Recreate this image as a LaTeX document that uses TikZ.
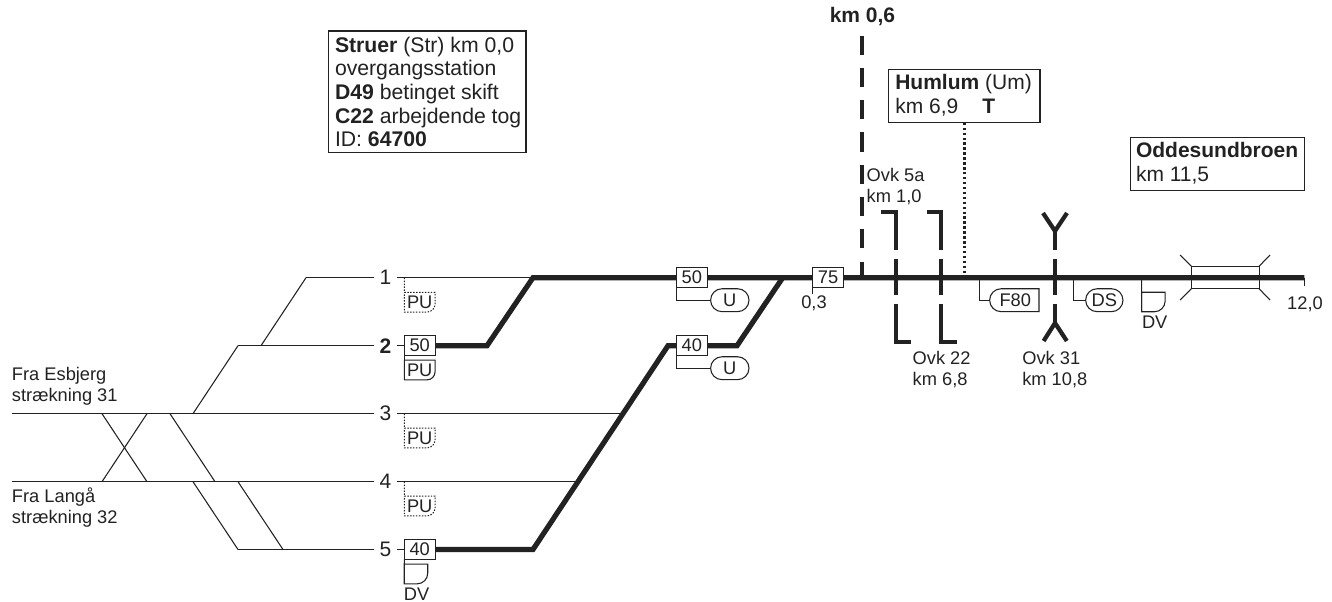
\documentclass[tikz,border=0pt]{standalone}
\usepackage{fontspec}
\setmainfont{Liberation Sans}
\usetikzlibrary{shapes.misc,backgrounds}
\definecolor{ink}{HTML}{222222}
\newcommand{\bignum}{\fontsize{15.75}{18}\selectfont}
\newcommand{\smalltxt}{\fontsize{13.7}{15.75}\selectfont}
\newcommand{\shield}[3]{\draw[#3] (#1.north west) -- (#1.north east) -- ([yshift=#2]#1.south east) arc[start angle=0,end angle=-90,radius=#2] -- (#1.south west) -- cycle;}
\tikzset{
  x=0.75pt,y=-0.75pt,
  every node/.style={text=ink,inner sep=0pt,outer sep=0pt},
  thinline/.style={draw=ink,line width=0.8pt},
  frame/.style={draw=ink,line width=0.8pt},
  main/.style={draw=ink,line width=3.9pt,miter limit=10},
  road/.style={draw=ink,line width=3.2pt,miter limit=10},
  dashroad/.style={road,dash pattern=on 14.3pt off 9.9pt},
  dotline/.style={draw=ink,line width=1.8pt,dash pattern=on 1.8pt off 1.9pt},
  dotframe/.style={draw=ink,line width=0.75pt,dash pattern=on 1.1pt off 1.1pt},
  num/.style={font=\bignum,minimum width=17.25pt},
  speed/.style={font=\smalltxt,draw=ink,line width=0.8pt,fill=white,minimum width=23pt,minimum height=14.7pt},
  pill/.style={font=\smalltxt,draw=ink,line width=0.8pt,fill=white,rounded rectangle,minimum height=17.2pt},
  shieldtxt/.style={font=\smalltxt,minimum width=23pt,minimum height=14.8pt},
  small/.style={font=\smalltxt,align=left,anchor=base west},
  infoframe/.style={draw=ink,line width=0.8pt,fill=white},
  info/.style={font=\bignum,align=left,anchor=base west}
}
\begin{document}
\begin{tikzpicture}
\useasboundingbox (0,0) rectangle (1332,602);
% track numbers
\node[num] (n1) at (385.5,277.7) {1};
\node[num] (n2) at (385.5,345.7) {\textbf{2}};
\node[num] (n3) at (385.5,413.7) {3};
\node[num] (n4) at (385.5,481.7) {4};
\node[num] (n5) at (385.5,549.5) {5};
% speed boards
\node[speed] (b2) at (419.7,345.7) {50};
\node[speed] (b5) at (419.7,549.5) {40};
\node[speed] (b1) at (691.8,277.7) {50};
\node[speed] (b4) at (691.8,345.7) {40};
\node[speed] (b75) at (828,277.7) {75};
% U pills
\node[pill,minimum width=28.8pt] (u1) at (729.8,300.2) {U};
\node[pill,minimum width=28.8pt] (u2) at (729.8,368.2) {U};
\node[pill,minimum width=28pt] (ds) at (1104.3,300.2) {DS};
\node[pill,rounded rectangle right arc=none,minimum width=37pt] (f80) at (1015.3,300.2) {F80};
% shields
\node[shieldtxt] (pu1) at (419.7,302.2) {PU};
\node[shieldtxt] (pu2) at (419.7,370) {PU};
\node[shieldtxt] (pu3) at (419.7,438) {PU};
\node[shieldtxt] (pu4) at (419.7,506) {PU};
\node[minimum width=17.6pt,minimum height=14.8pt] (dv1) at (416,574) {};
\node[minimum width=17.6pt,minimum height=14.6pt] (dv2) at (1153.4,302) {};
\shield{pu1}{6pt}{dotframe}
\shield{pu2}{6pt}{frame}
\shield{pu3}{6pt}{dotframe}
\shield{pu4}{6pt}{dotframe}
\shield{dv1}{8pt}{frame}
\shield{dv2}{8pt}{frame}
% labels
\node[small] (esb) at (12,401.7) {Fra Esbjerg\\strækning 31};
\node[small] (lan) at (12,523.3) {Fra Langå\\strækning 32};
\node[font=\smalltxt] (dvt1) at (416.5,594) {DV};
\node[font=\smalltxt] (dvt2) at (1154.7,322.5) {DV};
\node[font=\smalltxt] (km03) at (814,303) {0,3};
\node[font=\smalltxt] (km12) at (1305,304.7) {12,0};
\node[small] (o5) at (866.7,202.7) {Ovk 5a\\km 1,0};
\node[small] (o22) at (912.7,385) {Ovk 22\\km 6,8};
\node[small] (o31) at (1022.3,385) {Ovk 31\\km 10,8};
\node[font=\bignum\bfseries,anchor=base] (km06) at (862.5,22.7) {km 0,6};
% info boxes
\node[infoframe,minimum width=148.2pt,minimum height=91.2pt] (str) at (427.2,91.8) {};
\node[infoframe,minimum width=113.5pt,minimum height=39.8pt] (hum) at (964.3,96.2) {};
\node[infoframe,minimum width=130.7pt,minimum height=39.8pt] (odd) at (1217.2,163.8) {};
\node[info,font=\fontsize{15.9}{17.7}\selectfont] (strt) at (335,146.7) {\textbf{Struer} (Str) km 0,0\\overgangsstation\\\textbf{D49} betinget skift\\\textbf{C22} arbejdende tog\\ID: \textbf{64700}};
\node[info] (humt) at (895.3,114) {\textbf{Humlum} (Um)\\km 6,9\hspace{18pt}\textbf{T}};
\node[info] (oddt) at (1136,181.7) {\textbf{Oddesundbroen}\\km 11,5};
% bridge
\node[draw=ink,line width=0.8pt,minimum width=50.8pt,minimum height=16.8pt] (br) at (1225.2,277.5) {};
\coordinate (w1) at (1180,255);
\coordinate (w2) at (1180,300);
\coordinate (w3) at (1270,255);
\coordinate (w4) at (1270,300);
\draw[thinline] (br.north west) -- (w1) (br.south west) -- (w2) (br.north east) -- (w3) (br.south east) -- (w4);
% junction points
\coordinate (t1a) at (306,277.7); \coordinate (t2a) at (238,345.7);
\coordinate (t5a) at (238,549.5); \coordinate (t5b) at (283,549.5);
\coordinate (t3a) at (11.5,413.7); \coordinate (t4a) at (11.5,481.7);
\coordinate (t1e) at (533,277.7); \coordinate (t2k) at (487,345.7);
\coordinate (t5k) at (533,549.5); \coordinate (t4k) at (668,345.7);
\coordinate (t4e) at (737,345.7); \coordinate (t4j) at (782.7,277.7);
\coordinate (tend) at (1304.3,277.7);
\coordinate (t3e) at (623,413.7); \coordinate (t4f) at (578,481.7);
\begin{scope}[on background layer]
\draw[thinline] (t1a) -- (n1.west) (n1.east) -- (t1e);
\draw[thinline] (t2a) -- (n2.west) (n2.east) -- (b2.west);
\draw[thinline] (t3a) -- (n3.west) (n3.east) -- (t3e);
\draw[thinline] (t4a) -- (n4.west) (n4.east) -- (t4f);
\draw[thinline] (t5a) -- (n5.west) (n5.east) -- (b5.west);
% diagonals
\draw[thinline] (102,413.7) -- (147,481.7);
\draw[thinline] (102,481.7) -- (147,413.7);
\draw[thinline] (170,413.7) -- (215,481.7);
\draw[thinline] (193,481.7) -- (t5a);
\draw[thinline] (238,481.7) -- (t5b);
\draw[thinline] (193,413.7) -- (t2a);
\draw[thinline] (261,345.7) -- (t1a);
% main lines
\draw[main] (b2.center) -- (t2k) -- (t1e) -- (tend);
\draw[main] (b5.center) -- (t5k) -- (t4k) -- (t4e) -- (t4j);
% stems
\draw[thinline] (b1.south west) |- (u1.west);
\draw[thinline] (b4.south west) |- (u2.west);
\draw[thinline] (b75.south west) -- ++(0,7);
\draw[thinline] (979.3,277.7) |- (f80.west);
\draw[thinline] (1073.7,277.7) |- (ds.west);
\draw[thinline] (dv2.south west) -- (1141.7,277.7);
\draw[thinline] (tend) -- ++(0,8.5);
\draw[thinline] (b5.south west) -- (dv1.north west);
\draw[thinline] (b2.south west) -- (pu2.north west);
\draw[dotframe] (404.3,277.7) -- (pu1.north west);
\draw[dotframe] (404.3,413.7) -- (pu3.north west);
\draw[dotframe] (404.3,481.7) -- (pu4.north west);
% Humlum dotted
\draw[dotline] (hum.south) -- (hum.south |- tend);
% road crossings
\draw[dashroad] (862,35.7) -- (862,277.7);
\draw[road] (881,211.7) -- (896,211.7) -- (896,250);
\draw[road] (896,259) -- (896,295);
\draw[road] (896,304) -- (896,342) -- (911,342);
\draw[road] (927,211.7) -- (941,211.7) -- (941,250);
\draw[road] (941,259) -- (941,295);
\draw[road] (941,304) -- (941,342) -- (956.6,342);
\draw[road] (1043,213) -- (1055,231) -- (1067,213);
\draw[road] (1055,231) -- (1055,250);
\draw[road] (1055,259) -- (1055,295);
\draw[road] (1055,304) -- (1055,323);
\draw[road] (1043.6,341) -- (1055,323) -- (1066.8,341);
\end{scope}
\end{tikzpicture}
\end{document}
